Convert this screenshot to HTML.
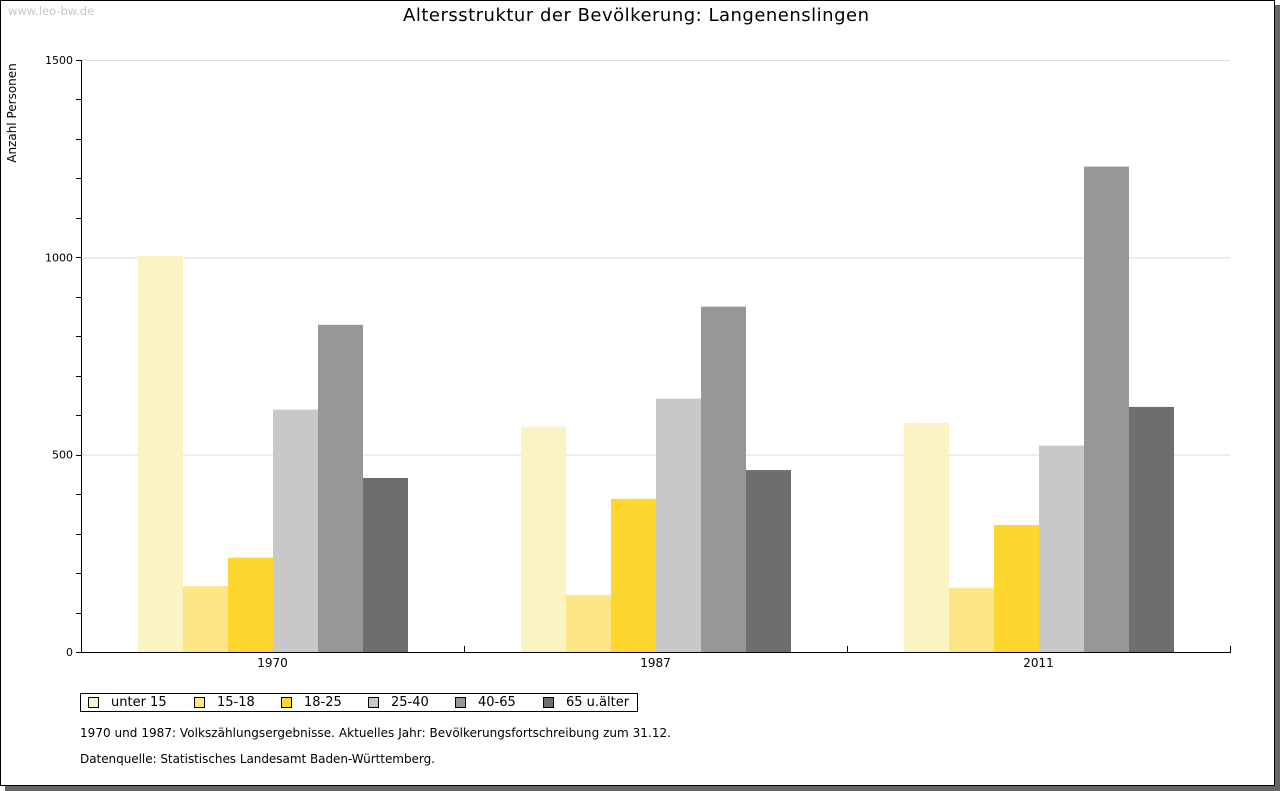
<!DOCTYPE html>
<html><head><meta charset="utf-8"><style>
body{margin:0;width:1280px;height:791px;background:#fff;overflow:hidden;font-family:"DejaVu Sans","Liberation Sans",sans-serif}
svg{display:block}
</style></head><body>
<svg id="c" width="1280" height="791">
<rect x="5" y="5" width="1275" height="786" fill="#666"/>
<rect x="0.5" y="0.5" width="1274" height="785" fill="#fff" stroke="#000"/>
<text x="8" y="15" font-size="11.5" fill="#c8c8c8">www.leo-bw.de</text>
<text x="403" y="21" font-size="18" textLength="466" lengthAdjust="spacing">Altersstruktur der Bevölkerung: Langenenslingen</text>
<text transform="translate(16,113) rotate(-90)" font-size="12" text-anchor="middle">Anzahl Personen</text>
<g id="plot"></g>
<text x="80" y="737" font-size="12" textLength="591" lengthAdjust="spacing">1970 und 1987: Volkszählungsergebnisse. Aktuelles Jahr: Bevölkerungsfortschreibung zum 31.12.</text>
<text x="80" y="763" font-size="12" textLength="355" lengthAdjust="spacing">Datenquelle: Statistisches Landesamt Baden-Württemberg.</text>
</svg>
<script>
const categories=["1970","1987","2011"];
const seriesNames=["unter 15","15-18","18-25","25-40","40-65","65 u.älter"];
const colors=["#fcf3c4","#fde685","#fdd72e","#c8c8c8","#979797","#6e6e6e"];
const s0=[1003,167,239,614,829,441];
const s1=[571,144,388,642,875,461];
const s2=[581,163,322,523,1230,621];
const values=[s0,s1,s2];
const yTicks=[0,500,1000,1500];
const NS="http://www.w3.org/2000/svg";
const g=document.getElementById('plot');
const X0=81,X1=1230,Y0=652,Y1=60,YMAX=1500;
const y=v=>Y0-(v/YMAX)*(Y0-Y1);
const gw=(X1-X0)/categories.length;
function el(t,a,p){const e=document.createElementNS(NS,t);for(const k in a)e.setAttribute(k,a[k]);(p||g).appendChild(e);return e;}
yTicks.forEach(t=>{if(t>0){const l=el('line',{x1:X0,x2:X1,y1:y(t)+0.5,y2:y(t)+0.5,stroke:'#dcdcdc'});

}
const tx=el('text',{x:X0-8,y:y(t)+4,'font-size':11,'text-anchor':'end'});tx.textContent=t;

});
for(let v=0;v<=YMAX;v+=100){const l=el('line',{x1:X0-5,x2:X0,y1:Math.round(y(v))+0.5,y2:Math.round(y(v))+0.5,stroke:'#000'});

}
const bw=45;
categories.forEach((c,i)=>{const start=X0+i*gw+57;
values[i].forEach((v,j)=>{const r=el('rect',{x:start+j*bw,y:y(v),width:bw,height:Y0-y(v),fill:colors[j]});

});
const t=el('text',{x:X0+(i+0.5)*gw,y:667,'font-size':12,'text-anchor':'middle'});t.textContent=c;


const tk=el('line',{x1:Math.round(X0+(i+1)*gw)+0.5,x2:Math.round(X0+(i+1)*gw)+0.5,y1:Y0-6,y2:Y0,stroke:'#000'});

});
const ya=el('line',{x1:X0+0.5,x2:X0+0.5,y1:Y1,y2:Y0+1,stroke:'#000'});


const xa=el('line',{x1:X0,x2:X1+1,y1:Y0+0.5,y2:Y0+0.5,stroke:'#000'});


const lg=el('g',{});


el('rect',{x:80.5,y:693.5,width:557,height:18,fill:'#fff',stroke:'#000'},lg);
const lx=[88,194,281,368,455,543];
seriesNames.forEach((n,j)=>{const e=el('g',{},lg);


el('rect',{x:lx[j]+0.5,y:697.5,width:10,height:10,fill:colors[j],stroke:'#000'},e);
const t=el('text',{x:lx[j]+23,y:706,'font-size':13},e);t.textContent=n;});
</script>
</body></html>
